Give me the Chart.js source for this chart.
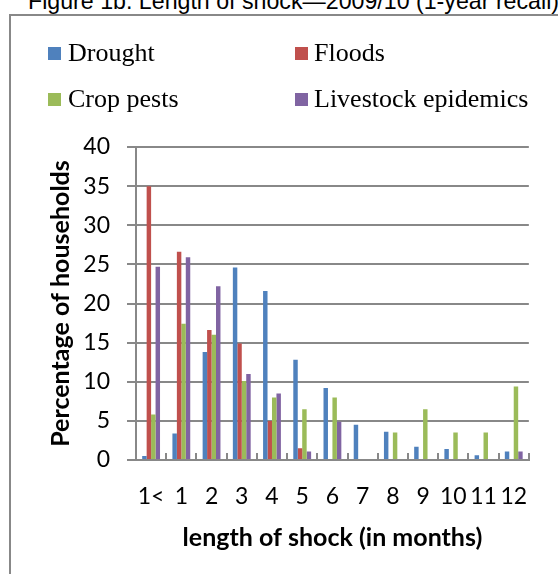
<!DOCTYPE html>
<html>
<head>
<meta charset="utf-8">
<script src="https://cdn.jsdelivr.net/npm/chart.js@4"></script>
<style>
  html, body { margin: 0; padding: 0; background: #fff; }
  body { width: 558px; height: 574px; position: relative; overflow: hidden; }
  #title { position: absolute; left: 28px; top: -10px; font-family: "Liberation Sans", Arial, sans-serif; font-size: 23.2px; line-height: 23px; white-space: nowrap; color: #000; }
  #frame { position: absolute; left: 9px; top: 14px; width: 700px; height: 700px; border: 2px solid #888; }
  #chartWrap { position: absolute; left: 0; top: 0; width: 558px; height: 574px; }
  .lg { position: absolute; font-family: "Liberation Serif", "Times New Roman", serif; font-size: 26px; line-height: 26px; white-space: nowrap; color: #000; }
  .sw { position: absolute; width: 13px; height: 13px; }
</style>
</head>
<body>
<div id="title">Figure 1b. Length of shock—2009/10 (1-year recall)</div>
<div id="frame"></div>
<div id="chartWrap"><canvas id="c" width="558" height="574"></canvas></div>
<div id="legend"></div>
<script>
// ---- data ----
const categories = ["1<", "1", "2", "3", "4", "5", "6", "7", "8", "9", "10", "11", "12"];
const seriesNames = ["Drought", "Floods", "Crop pests", "Livestock epidemics"];
const drought   = [0.5, 3.4, 13.8, 24.6, 21.6, 12.8, 9.2, 4.5, 3.6, 1.7, 1.4, 0.6, 1.1];
const floods    = [35.0, 26.6, 16.6, 14.9, 5.0, 1.5, 0, 0, 0, 0, 0, 0, 0];
const cropPests = [5.8, 17.4, 16.0, 10.1, 8.0, 6.5, 8.0, 0, 3.5, 6.5, 3.5, 3.5, 9.4];
const livestock = [24.7, 25.9, 22.2, 11.0, 8.5, 1.1, 4.9, 0, 0, 0, 0, 0, 1.1];
const yTicks = [0, 5, 10, 15, 20, 25, 30, 35, 40];
const colors = ["#4F81BD", "#C0504D", "#9BBB59", "#8064A2"];
const seriesValues = [drought, floods, cropPests, livestock];

// ---- legend (HTML, two columns) ----
const legend = document.getElementById('legend');
const legendPos = [
  {sx: 48, sy: 47, tx: 68, ty: 40},
  {sx: 295, sy: 47, tx: 314, ty: 40},
  {sx: 48, sy: 93, tx: 68, ty: 86},
  {sx: 295, sy: 93, tx: 314, ty: 86}
];
seriesNames.forEach((name, i) => {
  const p = legendPos[i];
  const sw = document.createElement('div');
  sw.className = 'sw';
  sw.style.left = p.sx + 'px'; sw.style.top = p.sy + 'px';
  sw.style.background = colors[i];
  legend.appendChild(sw);
  const t = document.createElement('div');
  t.className = 'lg';
  t.style.left = p.tx + 'px'; t.style.top = p.ty + 'px';
  t.textContent = name;
  legend.appendChild(t);
});

// ---- chart ----
const axisGray = '#888888';
const tickFont = { family: 'Lato', size: 23 };
const titleFont = { family: 'Lato', size: 25, weight: 'bold' };

new Chart(document.getElementById('c'), {
  type: 'bar',
  data: {
    labels: categories,
    datasets: seriesNames.map((n, i) => ({
      label: n,
      data: seriesValues[i],
      backgroundColor: colors[i],
      borderWidth: 0,
      categoryPercentage: 0.59,
      barPercentage: 1.0
    }))
  },
  options: {
    responsive: false,
    animation: false,
    layout: { padding: { left: 0, top: 147, right: 24, bottom: 0 } },
    plugins: { legend: { display: false }, title: { display: false }, tooltip: { enabled: false } },
    scales: {
      x: {
        grid: { offset: true, drawOnChartArea: false, drawTicks: true, tickLength: -7, color: axisGray, lineWidth: 2 },
        border: { display: true, color: axisGray, width: 2 },
        ticks: { font: tickFont, color: '#000', padding: 30, maxRotation: 0, minRotation: 0, autoSkip: false },
        title: { display: true, text: 'length of shock (in months)', font: titleFont, color: '#000', padding: { top: 0, bottom: 21 } },
        afterFit(s) { s.height = 114; }
      },
      y: {
        min: 0, max: 40,
        afterBuildTicks(s) { s.ticks = yTicks.map(v => ({ value: v })); },
        grid: { color: axisGray, lineWidth: 2, tickLength: 9 },
        border: { display: true, color: axisGray, width: 2 },
        ticks: { font: tickFont, color: '#000', padding: 17 },
        title: { display: true, text: 'Percentage of households', font: titleFont, color: '#000', padding: { top: 46, bottom: 0 } },
        afterFit(s) { s.width = 136; }
      }
    }
  }
});
</script>
</body>
</html>
